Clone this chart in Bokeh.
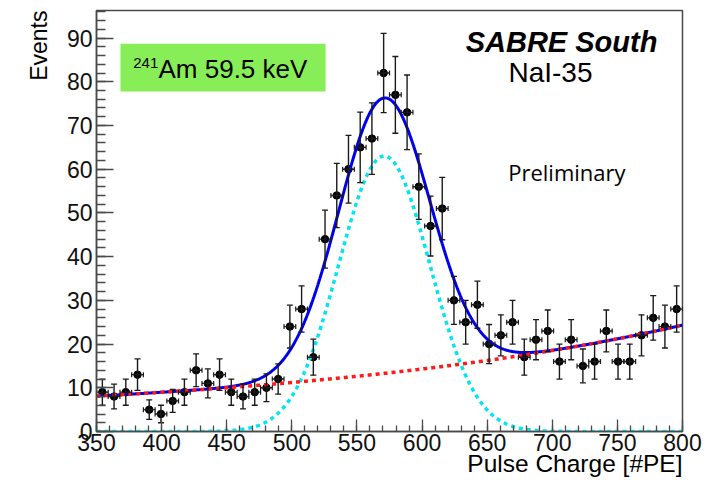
import numpy as np
from bokeh.plotting import figure
from bokeh.models import (Range1d, SingleIntervalTicker, ColumnDataSource, Whisker,
                          TeeHead, Label, BoxAnnotation, Title)
from bokeh.embed import file_html
from bokeh.resources import INLINE

# ---------------- data ----------------
bin_centers = [354.5, 363.5, 372.5, 381.5, 390.5, 399.5, 408.5, 417.5, 426.5, 435.5,
               444.5, 453.5, 462.5, 471.5, 480.5, 489.5, 498.5, 507.5, 516.5, 525.5,
               534.5, 543.5, 552.5, 561.5, 570.5, 579.5, 588.5, 597.5, 606.5, 615.5,
               624.5, 633.5, 642.5, 651.5, 660.5, 669.5, 678.5, 687.5, 696.5, 705.5,
               714.5, 723.5, 732.5, 741.5, 750.5, 759.5, 768.5, 777.5, 786.5, 795.5]
counts = [9, 8, 9, 13, 5, 4, 7, 9, 14, 11,
          13, 9, 8, 9, 10, 12, 24, 28, 17, 44,
          54, 60, 65, 67, 82, 77, 73, 56, 47, 51,
          30, 25, 29, 20, 22, 25, 17, 21, 23, 16,
          21, 15, 16, 23, 16, 16, 22, 26, 24, 28]
bin_half_width = 4.5

# fit parameters (Gaussian peak + exponential background)
gaus_amp = 63.0
gaus_mean = 571.0
gaus_sigma = 35.0
bkg_const = 3.0
bkg_amp = 5.1
bkg_slope = 0.00318
bkg_x0 = 350.0

x_min, x_max = 350, 800
y_min, y_max = 0, 96.3

# ---------------- derived ----------------
xc = np.array(bin_centers, dtype=float)
yc = np.array(counts, dtype=float)
err = np.sqrt(yc)

src = ColumnDataSource(dict(x=xc, y=yc, lo=yc - err, hi=yc + err,
                            xl=xc - bin_half_width, xr=xc + bin_half_width))

xf = np.linspace(x_min, x_max, 901)
bkg = bkg_const + bkg_amp * np.exp(bkg_slope * (xf - bkg_x0))
gaus = gaus_amp * np.exp(-0.5 * ((xf - gaus_mean) / gaus_sigma) ** 2)
total = gaus + bkg
fsrc = ColumnDataSource(dict(x=xf, bkg=bkg, gaus=gaus, total=total))

# ---------------- figure ----------------
p = figure(width=728, height=480, x_range=Range1d(x_min, x_max), y_range=Range1d(y_min, y_max),
           output_backend="svg", toolbar_location=None,
           min_border_left=96, min_border_right=46, min_border_top=10, min_border_bottom=49)
p.grid.visible = False
p.background_fill_color = "white"
p.border_fill_color = "white"
p.outline_line_color = "#4a4a4a"
p.outline_line_width = 1.5

axis_col = "#4a4a4a"
for ax in (p.xaxis[0], p.yaxis[0]):
    ax.axis_line_color = axis_col
    ax.axis_line_width = 1.5
    ax.major_tick_line_color = axis_col
    ax.minor_tick_line_color = axis_col
    ax.major_tick_line_width = 1.3
    ax.minor_tick_line_width = 1.3
    ax.major_tick_out = 0
    ax.minor_tick_out = 0
    ax.major_label_text_font = "Liberation Sans"
    ax.major_label_text_font_size = "23px"
    ax.major_label_text_color = "#111111"

p.xaxis[0].ticker = SingleIntervalTicker(interval=50, num_minor_ticks=5)
p.xaxis[0].major_tick_in = 12
p.xaxis[0].minor_tick_in = 6
p.xaxis[0].major_label_standoff = 2

p.yaxis[0].ticker = SingleIntervalTicker(interval=10, num_minor_ticks=5)
p.yaxis[0].major_tick_in = 17
p.yaxis[0].minor_tick_in = 9
p.yaxis[0].major_label_standoff = 4

# axis titles (ROOT style: aligned to the far end of each axis)
p.add_layout(Title(text="Pulse Charge [#PE]", align="right", vertical_align="top",
                   text_font="Liberation Sans", text_font_size="24.5px", text_font_style="normal",
                   text_color="black", standoff=-7, offset=0), "below")
p.add_layout(Title(text="Events", align="right", vertical_align="top",
                   text_font="Liberation Sans", text_font_size="23px", text_font_style="normal",
                   text_color="black", standoff=20, offset=0), "left")

# data points with error bars
vw = Whisker(source=src, base="x", lower="lo", upper="hi", dimension="height",
             line_color="#1a1a1a", line_width=1.4,
             upper_head=TeeHead(size=6, line_color="#1a1a1a", line_width=1.3),
             lower_head=TeeHead(size=6, line_color="#1a1a1a", line_width=1.3), level="glyph")
hw = Whisker(source=src, base="y", lower="xl", upper="xr", dimension="width",
             line_color="#1a1a1a", line_width=1.4,
             upper_head=TeeHead(size=5, line_color="#1a1a1a", line_width=1.2),
             lower_head=TeeHead(size=5, line_color="#1a1a1a", line_width=1.2), level="glyph")
p.add_layout(vw)
p.add_layout(hw)
p.scatter("x", "y", source=src, size=7.5, color="black", marker="circle")

# fit curves
p.line("x", "gaus", source=fsrc, line_color="#00e5ee", line_width=3.5, line_dash="4 4")
p.line("x", "total", source=fsrc, line_color="#0000ee", line_width=3)
p.line("x", "bkg", source=fsrc, line_color="#ff1a1a", line_width=3.5, line_dash="4 4")

# green label box
p.add_layout(BoxAnnotation(left=368.4, right=525.9, bottom=77.8, top=88.7,
                           fill_color="#88ee58", fill_alpha=1.0, line_alpha=0, level="annotation"))
p.add_layout(Label(x=378.2, y=84.4, text="241", text_font="Liberation Sans",
                   text_font_size="15px", text_color="black", text_baseline="alphabetic"))
p.add_layout(Label(x=397.6, y=82.9, text="Am 59.5 keV", text_font="Liberation Sans",
                   text_font_size="26px", text_color="black", text_baseline="alphabetic"))

# experiment texts
p.add_layout(Label(x=707.1, y=89.0, text="SABRE South", text_font="Liberation Sans",
                   text_font_style="bold italic", text_font_size="29px", text_color="black",
                   text_align="center", text_baseline="alphabetic"))
p.add_layout(Label(x=698.6, y=82.1, text="NaI-35", text_font="Liberation Sans",
                   text_font_size="28px", text_color="black",
                   text_align="center", text_baseline="alphabetic"))
p.add_layout(Label(x=711.2, y=59.3, text="Preliminary", text_font="Open Sans",
                   text_font_size="22px", text_color="black",
                   text_align="center", text_baseline="alphabetic"))

open("out.html", "w").write(file_html(p, INLINE))
